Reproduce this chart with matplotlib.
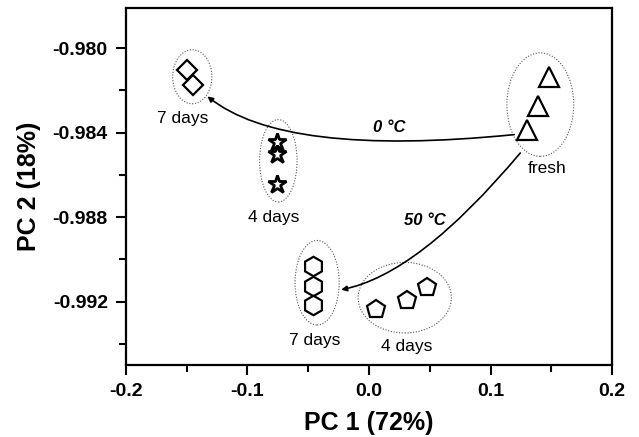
import matplotlib
matplotlib.use("Agg")
import matplotlib.pyplot as plt
from matplotlib.patches import Ellipse
from matplotlib.ticker import MultipleLocator

plt.rcParams['font.family'] = ['Liberation Sans', 'DejaVu Sans']

# sample scores (PC1, PC2)
fresh_x = [0.1478, 0.1387, 0.1296]
fresh_y = [-0.98137, -0.98276, -0.98390]

day7_0c_x = [-0.1494, -0.1445]
day7_0c_y = [-0.98103, -0.98174]

day4_0c_x = [-0.0757, -0.0757, -0.0757]
day4_0c_y = [-0.98447, -0.98500, -0.98642]

day7_50c_x = [-0.0460, -0.0460, -0.0460]
day7_50c_y = [-0.99034, -0.99125, -0.99215]

day4_50c_x = [0.0056, 0.0315, 0.0474]
day4_50c_y = [-0.99236, -0.99191, -0.99133]

# group ellipses: center x, center y, width, height
groups_cx = [-0.1454, -0.0746, 0.1409, -0.0427, 0.0294]
groups_cy = [-0.98136, -0.98534, -0.98268, -0.99111, -0.99182]
groups_w = [0.0322, 0.0308, 0.0550, 0.0363, 0.0767]
groups_h = [0.00256, 0.0039, 0.0049, 0.0040, 0.00334]

# labels
label_text = ['7 days', '4 days', 'fresh', '7 days', '4 days']
label_x = [-0.1533, -0.0785, 0.1469, -0.045, 0.0309]
label_y = [-0.98336, -0.98800, -0.98568, -0.99384, -0.99413]

fig = plt.figure(figsize=(6.39, 4.37), dpi=100)
ax = fig.add_axes([0.197, 0.165, 0.761, 0.817])

mk = dict(linestyle='none', markerfacecolor='white', markeredgecolor='black')
ax.plot(fresh_x, fresh_y, marker='^', markersize=14.5, markeredgewidth=1.6, **mk)
ax.plot(day7_0c_x, day7_0c_y, marker='D', markersize=10.5, markeredgewidth=1.6, **mk)
ax.plot(day4_0c_x, day4_0c_y, marker='*', markersize=13.5, markeredgewidth=2.0, **mk)
ax.plot(day7_50c_x, day7_50c_y, marker='h', markersize=14, markeredgewidth=1.6, **mk)
ax.plot(day4_50c_x, day4_50c_y, marker='p', markersize=13.5, markeredgewidth=1.6, **mk)

for cx, cy, w, h in zip(groups_cx, groups_cy, groups_w, groups_h):
    ax.add_patch(Ellipse((cx, cy), w, h, fill=False, edgecolor='#555555',
                         linestyle=(0, (1, 1.5)), linewidth=0.8))

for t, x, y in zip(label_text, label_x, label_y):
    ax.text(x, y, t, ha='center', va='center', fontsize=12.5)

# storage paths
ax.annotate('', xy=(-0.1329, -0.98229), xytext=(0.1194, -0.98410),
            arrowprops=dict(arrowstyle='-|>', color='black', lw=1.2,
                            mutation_scale=8, shrinkA=0, shrinkB=0,
                            connectionstyle='angle3,angleA=5.7,angleB=-39'))
ax.annotate('', xy=(-0.0229, -0.99144), xytext=(0.1244, -0.98497),
            arrowprops=dict(arrowstyle='-|>', color='black', lw=1.2,
                            mutation_scale=8, shrinkA=0, shrinkB=0,
                            connectionstyle='angle3,angleA=50,angleB=11'))
ax.text(0.0169, -0.98378, '0 °C', ha='center', va='center', fontsize=12,
        fontweight='bold', fontstyle='italic')
ax.text(0.0458, -0.98816, '50 °C', ha='center', va='center', fontsize=12,
        fontweight='bold', fontstyle='italic')

ax.xaxis.set_major_locator(MultipleLocator(0.1))
ax.xaxis.set_minor_locator(MultipleLocator(0.05))
ax.yaxis.set_major_locator(MultipleLocator(0.004))
ax.yaxis.set_minor_locator(MultipleLocator(0.002))
ax.set_xticks(ax.get_xticks())
ax.set_xticklabels([f'{v:.1f}' for v in ax.get_xticks()])
ax.set_yticks(ax.get_yticks())
ax.set_yticklabels([f'{v:.3f}' for v in ax.get_yticks()])
ax.set_xlim(-0.2, 0.2)
ax.set_ylim(-0.995, -0.9781)
ax.tick_params(which='major', direction='out', length=7, width=1.5,
               labelsize=14, pad=6)
ax.tick_params(which='minor', direction='out', length=5, width=1.5)
ax.tick_params(top=False, right=False)
for lbl in ax.get_xticklabels() + ax.get_yticklabels():
    lbl.set_fontweight('bold')
for sp in ax.spines.values():
    sp.set_linewidth(1.6)

ax.set_xlabel('PC 1 (72%)', fontsize=18, fontweight='bold', labelpad=8)
ax.set_ylabel('PC 2 (18%)', fontsize=18, fontweight='bold', labelpad=8)

fig.savefig('out.png', dpi=100)
